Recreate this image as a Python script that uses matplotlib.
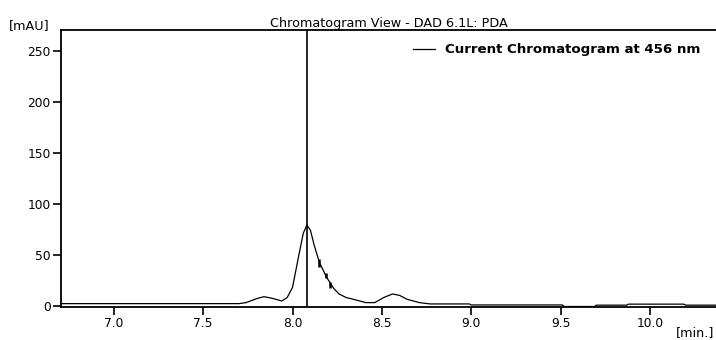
import numpy as np
import matplotlib.pyplot as plt

# retention time [min] and absorbance [mAU]
time = [6.70, 7.70, 7.74, 7.80, 7.84, 7.88, 7.94, 7.97, 8.00, 8.03, 8.06, 8.08,
        8.10, 8.12, 8.15, 8.19, 8.23, 8.26, 8.30, 8.34, 8.41, 8.46, 8.51, 8.56,
        8.60, 8.64, 8.71, 8.77, 8.99, 9.00, 9.51, 9.52, 9.69, 9.70, 9.87, 9.88,
        10.19, 10.20, 10.40]
signal = [2.0, 2.0, 3.0, 7.0, 8.8, 7.5, 4.6, 8.0, 18.0, 45.0, 71.0, 79.0,
          74.0, 60.0, 42.5, 28.0, 17.0, 11.5, 8.0, 6.3, 3.0, 3.0, 8.0, 11.5,
          10.0, 6.3, 3.0, 1.7, 1.7, 0.7, 0.7, -0.8, -0.8, 0.5, 0.5, 1.5,
          1.5, 0.5, 0.5]

# integration marks on the tail of the main peak
mark_t = [8.150, 8.185, 8.212]
mark_lo = [38.0, 27.0, 17.0]
mark_hi = [46.0, 32.0, 23.0]

peak_rt = 8.083
xticks = [7.0, 7.5, 8.0, 8.5, 9.0, 9.5, 10.0]
yticks = [0, 50, 100, 150, 200, 250]

plt.rcParams['font.family'] = ['DejaVu Sans']

fig = plt.figure(figsize=(7.16, 3.4), dpi=100)
ax = fig.add_axes([61/716, 1 - 307/340, 1 - 61/716, (307 - 30)/340])

ax.plot(time, signal, color='black', lw=0.9, label='Current Chromatogram at 456 nm')
ax.vlines(mark_t, mark_lo, mark_hi, color='black', lw=1.8)
ax.axvline(peak_rt, color='black', lw=1.2)

ax.set_xlim(6.704, 10.37)
ax.set_ylim(-1.3, 270.3)
ax.set_xticks(xticks)
ax.set_xticklabels(['%.1f' % t for t in xticks])
ax.set_yticks(yticks)
ax.tick_params(direction='out', length=6, width=1.2, labelsize=8.8, pad=1.5)
for s in ['left', 'bottom', 'top']:
    ax.spines[s].set_linewidth(1.3)
ax.spines['right'].set_visible(False)

ax.set_title('Chromatogram View - DAD 6.1L: PDA', fontsize=9.2, pad=2)
fig.text(9/716, 1 - 26/340, '[mAU]', fontsize=9.2, va='center', ha='left')
fig.text(714/716, 1 - 333/340, '[min.]', fontsize=9.2, va='center', ha='right')

leg = ax.legend(loc='upper right', bbox_to_anchor=(0.995, 0.995), frameon=False,
                handlelength=1.6, handletextpad=0.8,
                prop={'size': 9.6, 'weight': 'bold'})

fig.savefig('out.png', dpi=100)
